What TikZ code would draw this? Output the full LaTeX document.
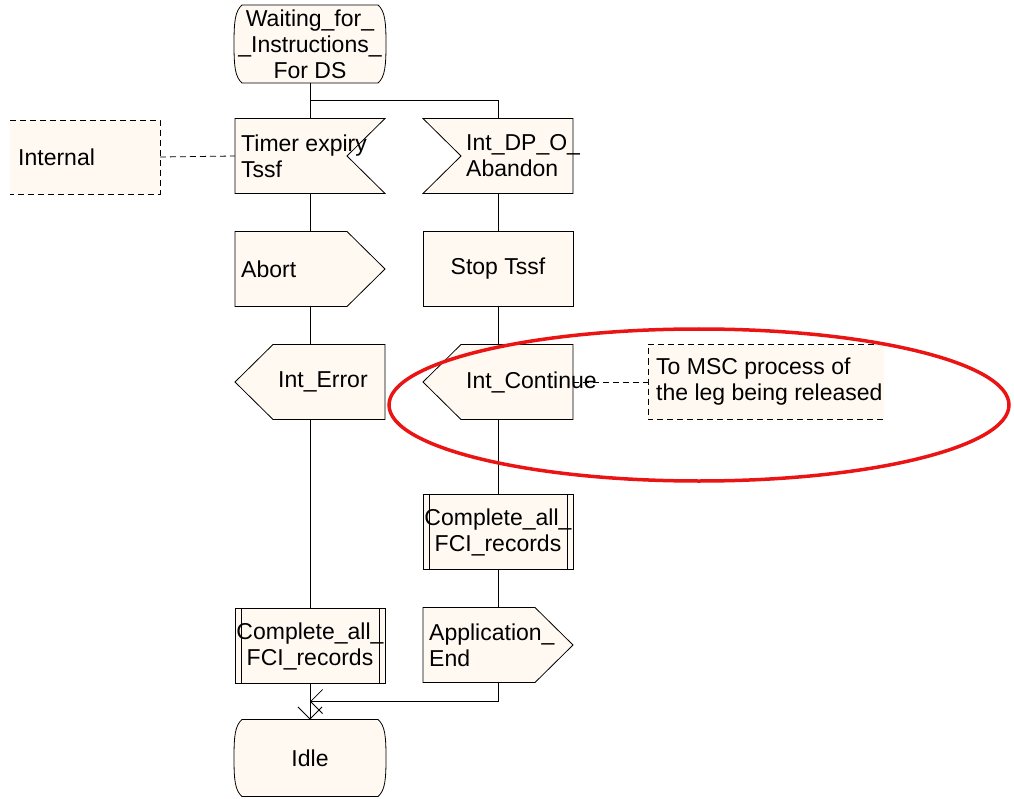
\documentclass[tikz,border=0pt]{standalone}
\usepackage{fontspec}
\setmainfont{Liberation Sans}
\usetikzlibrary{calc}
\usetikzlibrary{arrows.meta,positioning}
\definecolor{paper}{RGB}{255,249,242}
\definecolor{ring}{RGB}{235,20,20}

\begin{document}
\begin{tikzpicture}[x=1pt,y=-1pt]
			\def\notch{38}
			\def\inset{6}

			\tikzset{line/.style={draw,line width=0.8pt}}
			\tikzset{arrow/.style={line,-{Straight Barb[length=12pt,width=24pt]}}}
			\tikzset{sym/.style={shape=rectangle,inner sep=0pt,outer sep=0pt,minimum width=150pt,minimum height=75pt}}
			\tikzset{outline/.style={line,fill=paper}}
			\tikzset{note/.style={line,dash pattern=on 6pt off 4pt}}
			\tikzset{txt/.style={inner sep=0pt,align=left,font=\fontsize{23}{26}\selectfont}}

			% State: node name
			\tikzset{pics/state/.style={code={%
								\draw[outline] ($(#1.north west)+(8,0)$) -- ($(#1.north east)+(-8,0)$)
									.. controls ($(#1.north east)+(-1,6)$) and ($(#1.east)+(0,-22)$) .. (#1.east)
									.. controls ($(#1.east)+(0,22)$) and ($(#1.south east)+(-1,-6)$) .. ($(#1.south east)+(-8,0)$)
									-- ($(#1.south west)+(8,0)$)
									.. controls ($(#1.south west)+(1,-6)$) and ($(#1.west)+(0,22)$) .. (#1.west)
									.. controls ($(#1.west)+(0,-22)$) and ($(#1.north west)+(1,6)$) .. cycle;
							}}}
			% Input, notch right / notch left
			\tikzset{pics/inR/.style={code={%
								\draw[outline] (#1.north west) -- (#1.north east) -- ($(#1.east)+(-\notch,0)$) -- (#1.south east) -- (#1.south west) -- cycle;
							}}}
			\tikzset{pics/inL/.style={code={%
								\draw[outline] (#1.north west) -- (#1.north east) -- (#1.south east) -- (#1.south west) -- ($(#1.west)+(\notch,0)$) -- cycle;
							}}}
			% Output, pointing right / pointing left
			\tikzset{pics/outR/.style={code={%
								\draw[outline] (#1.north west) -- ($(#1.north east)+(-\notch,0)$) -- (#1.east) -- ($(#1.south east)+(-\notch,0)$) -- (#1.south west) -- cycle;
							}}}
			\tikzset{pics/outL/.style={code={%
								\draw[outline] ($(#1.north west)+(\notch,0)$) -- (#1.north east) -- (#1.south east) -- ($(#1.south west)+(\notch,0)$) -- (#1.west) -- cycle;
							}}}
			% Task and procedure call
			\tikzset{pics/task/.style={code={%
								\draw[outline] (#1.north west) rectangle (#1.south east);
							}}}
			\tikzset{pics/proc/.style={code={%
								\draw[outline] (#1.north west) rectangle (#1.south east);
								\draw[line] ($(#1.north west)+(\inset,0)$) -- ($(#1.south west)+(\inset,0)$);
								\draw[line] ($(#1.north east)+(-\inset,0)$) -- ($(#1.south east)+(-\inset,0)$);
							}}}
			% Comments, open left / open right
			\tikzset{pics/cmtR/.style={code={%
								\fill[paper] (#1.north west) rectangle (#1.south east);
								\draw[note] (#1.north west) -- (#1.north east) -- (#1.south east) -- (#1.south west);
							}}}
			\tikzset{pics/cmtL/.style={code={%
								\fill[paper] (#1.north west) rectangle (#1.south east);
								\draw[note] (#1.north east) -- (#1.north west) -- (#1.south west) -- (#1.south east);
							}}}

			\useasboundingbox (0,0) rectangle (1014,799);

			\node[sym,minimum width=152pt,minimum height=78pt] (wait) at (310,44) {};
			\node[sym] (tim) at (310,156) {};
			\node[sym] (dpo) at (498,156) {};
			\node[sym,below=38pt of tim] (abort) {};
			\node[sym,below=38pt of dpo] (stop) {};
			\node[sym,below=38pt of abort] (ierr) {};
			\node[sym,below=38pt of stop] (icont) {};
			\node[sym,below=75pt of icont] (cmpR) {};
			\node[sym,below=38pt of cmpR] (appEnd) {};
			\node[sym] (cmpL) at (310,646) {};
			\node[sym,minimum width=152pt,minimum height=77pt] (idle) at (310,758) {};
			\node[sym,minimum height=74pt] (cInt) at (85,157) {};
			\node[sym,minimum width=236pt] (cMsc) at (766,382) {};

			\coordinate (br) at ($(wait.south)!0.5!(tim.north)$);
			\coordinate (jn) at ($(cmpL.south)!0.5!(idle.north)$);

			\path[line] (wait.south) to (tim.north);
			\path[line] (br) -| (dpo.north);
			\path[line] (tim.south) to (abort.north);
			\path[line] (abort.south) to (ierr.north);
			\path[line] (ierr.south) to (cmpL.north);
			\path[arrow] (cmpL.south) to (idle.north);

			\path[line] (dpo.south) to (stop.north);
			\path[line] (stop.south) to (icont.north);
			\path[line] (icont.south) to (cmpR.north);
			\path[line] (cmpR.south) to (appEnd.north);
			\path[arrow] (appEnd.south) |- (jn);

			\path[note] (cInt.east) to (tim.west);
			\path[note] (icont.east) to (cMsc.west);

			\pic {state=wait};
			\pic {inR=tim};
			\pic {inL=dpo};
			\pic {outR=abort};
			\pic {task=stop};
			\pic {outL=ierr};
			\pic {outL=icont};
			\pic {proc=cmpR};
			\pic {outR=appEnd};
			\pic {proc=cmpL};
			\pic {state=idle};
			\pic {cmtR=cInt};
			\pic {cmtL=cMsc};

			\node[txt,align=center] (waitT) at (wait) {Waiting\_for\_\\\_Instructions\_\\For DS};
			\node[txt,anchor=west] (timT) at ($(tim.west)+(\inset,0)$) {Timer expiry\\Tssf};
			\node[txt,anchor=west] (dpoT) at ($(dpo.west)+(43,0)$) {Int\_DP\_O\_\\Abandon};
			\node[txt,anchor=west] (abortT) at ($(abort.west)+(\inset,0)$) {Abort};
			\node[txt] (stopT) at (stop) {Stop Tssf};
			\node[txt,anchor=west] (ierrT) at ($(ierr.west)+(43,0)$) {Int\_Error};
			\node[txt,anchor=west] (icontT) at ($(icont.west)+(43,0)$) {Int\_Continue};
			\node[txt,align=center] (cmpRT) at (cmpR) {Complete\_all\_\\FCI\_records};
			\node[txt,anchor=west] (appEndT) at ($(appEnd.west)+(\inset,0)$) {Application\_\\End};
			\node[txt,align=center] (cmpLT) at (cmpL) {Complete\_all\_\\FCI\_records};
			\node[txt] (idleT) at (idle) {Idle};
			\node[txt,anchor=west] (cIntT) at ($(cInt.west)+(8,0)$) {Internal};
			\node[txt,anchor=west] (cMscT) at ($(cMsc.west)+(8,0)$) {To MSC process of\\the leg being released};

			\draw[ring,line width=3.5pt] (699,405) ellipse [x radius=310, y radius=76];
		\end{tikzpicture}
\end{document}
